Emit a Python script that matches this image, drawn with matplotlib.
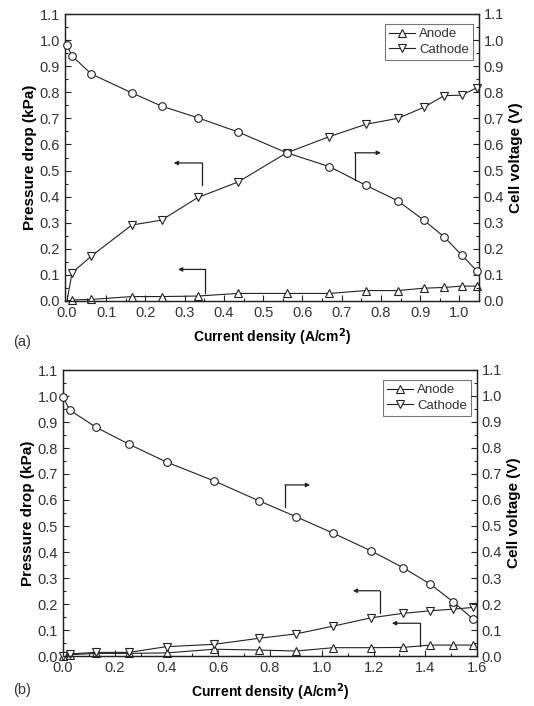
import matplotlib
matplotlib.use("Agg")
import matplotlib.pyplot as plt
from matplotlib.ticker import MultipleLocator, FormatStrFormatter

plt.rcParams['font.family'] = ['Liberation Sans', 'DejaVu Sans']

# ---------------- Panel (a) data ----------------
a_x_volt = [0.0, 0.013, 0.062, 0.165, 0.241, 0.334, 0.436, 0.56, 0.669, 0.761, 0.843, 0.909, 0.961, 1.006, 1.044]
a_volt = [0.98, 0.939, 0.870, 0.798, 0.747, 0.702, 0.648, 0.568, 0.515, 0.444, 0.384, 0.310, 0.246, 0.176, 0.116]

a_x_gas = [0.0, 0.013, 0.062, 0.165, 0.241, 0.334, 0.436, 0.56, 0.669, 0.761, 0.843, 0.909, 0.961, 1.006, 1.044]
a_anode = [0.0, 0.004, 0.006, 0.017, 0.017, 0.019, 0.029, 0.029, 0.029, 0.040, 0.040, 0.049, 0.052, 0.057, 0.057]
a_cathode = [0.0, 0.108, 0.172, 0.291, 0.310, 0.397, 0.456, 0.568, 0.630, 0.677, 0.700, 0.742, 0.787, 0.789, 0.817]

# ---------------- Panel (b) data ----------------
b_x = [0.0, 0.026, 0.127, 0.256, 0.400, 0.585, 0.757, 0.900, 1.045, 1.191, 1.314, 1.420, 1.507, 1.585]
b_volt = [0.997, 0.946, 0.880, 0.814, 0.746, 0.673, 0.597, 0.536, 0.472, 0.404, 0.340, 0.276, 0.209, 0.142]
b_anode = [0.0, 0.005, 0.010, 0.010, 0.012, 0.026, 0.023, 0.019, 0.032, 0.032, 0.033, 0.042, 0.042, 0.042]
b_cathode = [0.0, 0.008, 0.014, 0.014, 0.036, 0.045, 0.068, 0.085, 0.115, 0.147, 0.164, 0.174, 0.180, 0.187]

# L-shaped pointer annotations: (corner x, corner y, tail y, head x)
a_pointers = [(0.345, 0.529, 0.444, 0.272),
              (0.733, 0.568, 0.464, 0.800),
              (0.353, 0.121, 0.030, 0.283)]
b_pointers = [(0.858, 0.658, 0.574, 0.955),
              (1.224, 0.251, 0.164, 1.120),
              (1.379, 0.126, 0.038, 1.271)]

LINE = '#222222'
TICKC = '#333333'
W, H = 534, 706

fig = plt.figure(figsize=(W / 100, H / 100), dpi=100)


def style_axis(ax):
    ax.set_ylim(0, 1.1)
    ax.yaxis.set_major_locator(MultipleLocator(0.1))
    ax.yaxis.set_minor_locator(MultipleLocator(0.05))
    ax.yaxis.set_major_formatter(FormatStrFormatter('%.1f'))
    ax.tick_params(which='both', direction='in', colors=LINE, labelcolor=TICKC,
                   labelsize=10.5, top=False)
    ax.tick_params(which='major', length=4, width=0.8)
    ax.tick_params(which='minor', length=2.5, width=0.8)
    for s in ax.spines.values():
        s.set_linewidth(0.9)
        s.set_color(LINE)


def make_panel(rect, xs_v, volt, xs_g, anode, cathode, xlim, xmaj, xmin,
               pointers, tag, tag_y, skip_first):
    ax = fig.add_axes(rect)
    ax.set_xlim(*xlim)
    ax.xaxis.set_major_locator(MultipleLocator(xmaj))
    ax.xaxis.set_minor_locator(MultipleLocator(xmin))
    ax.xaxis.set_major_formatter(FormatStrFormatter('%.1f'))
    style_axis(ax)
    ax.tick_params(axis='y', which='both', right=False)

    mk = dict(markersize=5.5, markerfacecolor='white', markeredgecolor=LINE,
              markeredgewidth=0.8, color=LINE, linewidth=0.8)
    start = 1 if skip_first else 0
    ax.plot(xs_g, anode, marker='^', label='Anode', clip_on=False, zorder=3,
            markevery=list(range(start, len(xs_g))), **mk)
    ax.plot(xs_g, cathode, marker='v', label='Cathode', clip_on=False, zorder=3,
            markevery=list(range(start, len(xs_g))), **mk)

    ax2 = ax.twinx()
    style_axis(ax2)
    ax2.tick_params(axis='y', which='both', left=False, right=True)
    ax2.plot(xs_v, volt, marker='o', clip_on=False, zorder=3, **mk)

    ax.set_ylabel('Pressure drop (kPa)', fontsize=11, fontweight='bold', labelpad=2)
    ax2.set_ylabel('Cell voltage (V)', fontsize=11, fontweight='bold', labelpad=3)
    ax.set_xlabel('Current density (A/cm$^\\mathbf{2}$)', fontsize=10, fontweight='bold', labelpad=5)

    leg = ax.legend(loc='upper right', bbox_to_anchor=(0.985, 0.965), fontsize=9.5,
                    frameon=True, fancybox=False, handlelength=2.0, handletextpad=0.3,
                    borderpad=0.3, labelspacing=0.25, borderaxespad=0.0)
    leg.get_frame().set_edgecolor('#555555')
    leg.get_frame().set_linewidth(0.8)
    for t in leg.get_texts():
        t.set_color(TICKC)

    for cx, cy, ty, hx in pointers:
        ax.plot([cx, cx], [cy, ty], color=LINE, lw=0.9)
        ax.annotate('', xy=(hx, cy), xytext=(cx, cy),
                    arrowprops=dict(arrowstyle='-|>', color=LINE, lw=0.9,
                                    mutation_scale=6, shrinkA=0, shrinkB=0))

    fig.text(13 / W, tag_y, tag, fontsize=10.5, color=TICKC, va='center', ha='left')
    return ax, ax2


make_panel([65 / W, 1 - 301 / H, 414 / W, 287 / H], a_x_volt, a_volt, a_x_gas, a_anode,
           a_cathode, (-0.005, 1.05), 0.1, 0.05, a_pointers, '(a)', 1 - 342 / H, True)
make_panel([63 / W, 1 - 656 / H, 414 / W, 286 / H], b_x, b_volt, b_x, b_anode,
           b_cathode, (0.0, 1.6), 0.2, 0.1, b_pointers, '(b)', 1 - 690 / H, False)

fig.savefig('out.png', dpi=100)
